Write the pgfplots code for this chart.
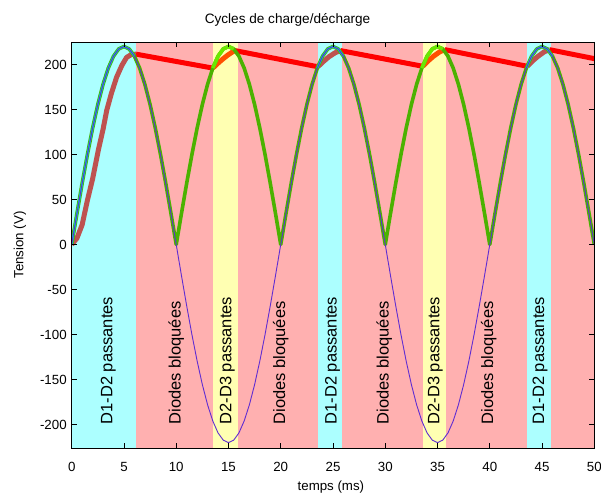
\documentclass[border=0pt]{standalone}
\usepackage{fontspec}
\setmainfont{Liberation Sans}
\usepackage{pgfplots}
\usepackage{pgfplotstable}
\pgfplotsset{compat=1.18}
\definecolor{bgcyan}{RGB}{172,255,255}
\definecolor{bgpink}{RGB}{255,176,176}
\definecolor{bgyellow}{RGB}{255,255,178}
\definecolor{sinblue}{RGB}{95,45,210}
\definecolor{rgreen}{RGB}{75,178,0}
\definecolor{rlime}{RGB}{105,232,0}
\definecolor{rcyan}{RGB}{0,205,205}
\definecolor{dred}{RGB}{255,0,0}
\definecolor{cbrown}{RGB}{190,82,80}
\definecolor{corange}{RGB}{255,80,0}

\pgfplotstableread{
t v a
0 0 0
0.5 34.41 34.41
1 67.98 67.98
1.5 99.88 99.88
2 129.31 129.31
2.5 155.56 155.56
3 177.98 177.98
3.5 196.02 196.02
4 209.23 209.23
4.5 217.29 217.29
5 220 220
5.5 217.29 217.29
6 209.23 209.23
6.5 196.02 196.02
7 177.98 177.98
7.5 155.56 155.56
8 129.31 129.31
8.5 99.88 99.88
9 67.98 67.98
9.5 34.41 34.41
10 0 0
10.5 -34.41 34.41
11 -67.98 67.98
11.5 -99.88 99.88
12 -129.31 129.31
12.5 -155.56 155.56
13 -177.98 177.98
13.5 -196.02 196.02
14 -209.23 209.23
14.5 -217.29 217.29
15 -220 220
15.5 -217.29 217.29
16 -209.23 209.23
16.5 -196.02 196.02
17 -177.98 177.98
17.5 -155.56 155.56
18 -129.31 129.31
18.5 -99.88 99.88
19 -67.98 67.98
19.5 -34.41 34.41
20 0 0
20.5 34.41 34.41
21 67.98 67.98
21.5 99.88 99.88
22 129.31 129.31
22.5 155.56 155.56
23 177.98 177.98
23.5 196.02 196.02
24 209.23 209.23
24.5 217.29 217.29
25 220 220
25.5 217.29 217.29
26 209.23 209.23
26.5 196.02 196.02
27 177.98 177.98
27.5 155.56 155.56
28 129.31 129.31
28.5 99.88 99.88
29 67.98 67.98
29.5 34.41 34.41
30 0 0
30.5 -34.41 34.41
31 -67.98 67.98
31.5 -99.88 99.88
32 -129.31 129.31
32.5 -155.56 155.56
33 -177.98 177.98
33.5 -196.02 196.02
34 -209.23 209.23
34.5 -217.29 217.29
35 -220 220
35.5 -217.29 217.29
36 -209.23 209.23
36.5 -196.02 196.02
37 -177.98 177.98
37.5 -155.56 155.56
38 -129.31 129.31
38.5 -99.88 99.88
39 -67.98 67.98
39.5 -34.41 34.41
40 0 0
40.5 34.41 34.41
41 67.98 67.98
41.5 99.88 99.88
42 129.31 129.31
42.5 155.56 155.56
43 177.98 177.98
43.5 196.02 196.02
44 209.23 209.23
44.5 217.29 217.29
45 220 220
45.5 217.29 217.29
46 209.23 209.23
46.5 196.02 196.02
47 177.98 177.98
47.5 155.56 155.56
48 129.31 129.31
48.5 99.88 99.88
49 67.98 67.98
49.5 34.41 34.41
50 0 0
}\sinetable

\begin{document}
\begin{tikzpicture}
\useasboundingbox (-71.7pt,-47pt) rectangle (529.3pt,448pt);
\begin{axis}[
  at={(0,0)}, anchor=south west,
  scale only axis, width=522.6pt, height=406pt,
  xmin=0, xmax=50, ymin=-226, ymax=225,
  xtick={0,5,...,50}, ytick={-200,-150,...,200},
  tick align=inside, major tick length=5pt,
  tick style={black, line width=0.8pt},
  axis line style={black, line width=0.8pt},
  /pgf/number format/assume math mode=true,
  ticklabel style={font=\fontsize{13.3}{15}\selectfont},
  xticklabel style={yshift=-10.5pt},
  yticklabel style={xshift=-1.5pt},
  axis on top,
  xlabel={temps (ms)}, ylabel={Tension (V)},
  xlabel style={font=\fontsize{13.3}{15}\selectfont, at={(axis description cs:0.496,-0.096)}, anchor=center},
  ylabel style={font=\fontsize{13.3}{15}\selectfont, at={(axis description cs:-0.099,0.5)}, anchor=center},
  title={Cycles de charge/décharge},
  title style={font=\fontsize{13.6}{15}\selectfont, at={(axis description cs:0.413,1.04)}, anchor=center},
]
% background regions
\addplot[fill=bgcyan, draw=none] coordinates {(0,-226) (6.15,-226) (6.15,225) (0,225)} --cycle;
\addplot[fill=bgpink, draw=none] coordinates {(6.15,-226) (13.5,-226) (13.5,225) (6.15,225)} --cycle;
\addplot[fill=bgyellow, draw=none] coordinates {(13.5,-226) (15.9,-226) (15.9,225) (13.5,225)} --cycle;
\addplot[fill=bgpink, draw=none] coordinates {(15.9,-226) (23.55,-226) (23.55,225) (15.9,225)} --cycle;
\addplot[fill=bgcyan, draw=none] coordinates {(23.55,-226) (25.9,-226) (25.9,225) (23.55,225)} --cycle;
\addplot[fill=bgpink, draw=none] coordinates {(25.9,-226) (33.6,-226) (33.6,225) (25.9,225)} --cycle;
\addplot[fill=bgyellow, draw=none] coordinates {(33.6,-226) (35.85,-226) (35.85,225) (33.6,225)} --cycle;
\addplot[fill=bgpink, draw=none] coordinates {(35.85,-226) (43.6,-226) (43.6,225) (35.85,225)} --cycle;
\addplot[fill=bgcyan, draw=none] coordinates {(43.6,-226) (45.9,-226) (45.9,225) (43.6,225)} --cycle;
\addplot[fill=bgpink, draw=none] coordinates {(45.9,-226) (50,-226) (50,225) (45.9,225)} --cycle;
% capacitor voltage: discharge
\addplot[dred, line width=5pt, line cap=butt] coordinates {(6.15,211.5) (13.5,196)};
\addplot[dred, line width=5pt, line cap=butt] coordinates {(15.6,215.5) (23.55,197.5)};
\addplot[dred, line width=5pt, line cap=butt] coordinates {(25.7,215.5) (33.6,198)};
\addplot[dred, line width=5pt, line cap=butt] coordinates {(35.7,216.5) (43.6,198)};
\addplot[dred, line width=5pt, line cap=butt] coordinates {(45.7,216.5) (50,206.5)};
% capacitor voltage: charge
\addplot[cbrown, line width=5pt, line join=round] coordinates {(0,0) (0.5,7) (1,22) (1.5,49) (2,73) (2.55,105) (3,128) (3.35,149) (3.8,168) (4.3,186) (4.8,199) (5.26,208) (5.7,211) (6.15,211.5)};
\addplot[corange, line width=5pt, line join=round] coordinates {(13.5,196) (14,201.5) (14.5,206.5) (15,211) (15.6,215.5)};
\addplot[cbrown, line width=5pt, line join=round] coordinates {(23.55,197.5) (24.1,203.5) (24.6,208.5) (25.2,213) (25.7,215.5)};
\addplot[corange, line width=5pt, line join=round] coordinates {(33.6,198) (34.1,204) (34.6,209) (35.2,214) (35.7,216.5)};
\addplot[cbrown, line width=5pt, line join=round] coordinates {(43.6,198) (44.1,204) (44.6,209) (45.2,214) (45.7,216.5)};
% rectified voltage
\addplot[rgreen, line width=3.6pt, line join=round] table[x=t, y=a] {\sinetable};
\addplot[rlime, line width=3.6pt, line join=round, restrict x to domain=13.5:15.9] table[x=t, y=a] {\sinetable};
\addplot[rlime, line width=3.6pt, line join=round, restrict x to domain=33.5:35.9] table[x=t, y=a] {\sinetable};
\addplot[rcyan, line width=2pt, line join=round, restrict x to domain=0:6.2] table[x=t, y=a] {\sinetable};
\addplot[rcyan, line width=2pt, line join=round, restrict x to domain=23.5:26] table[x=t, y=a] {\sinetable};
\addplot[rcyan, line width=2pt, line join=round, restrict x to domain=43.5:46] table[x=t, y=a] {\sinetable};
% source voltage
\addplot[sinblue, line width=0.9pt, line join=round] table[x=t, y=v] {\sinetable};
% labels
\begin{scope}[every node/.style={rotate=90, anchor=west, inner sep=0pt, font=\fontsize{16.5}{18}\selectfont}]
\node at (axis cs:3.5,-200) {D1-D2 passantes};
\node at (axis cs:10,-200) {Diodes bloquées};
\node at (axis cs:14.9,-200) {D2-D3 passantes};
\node at (axis cs:20,-200) {Diodes bloquées};
\node at (axis cs:24.95,-200) {D1-D2 passantes};
\node at (axis cs:29.9,-200) {Diodes bloquées};
\node at (axis cs:34.8,-200) {D2-D3 passantes};
\node at (axis cs:39.9,-200) {Diodes bloquées};
\node at (axis cs:44.8,-200) {D1-D2 passantes};
\end{scope}
\end{axis}
\end{tikzpicture}
\end{document}
